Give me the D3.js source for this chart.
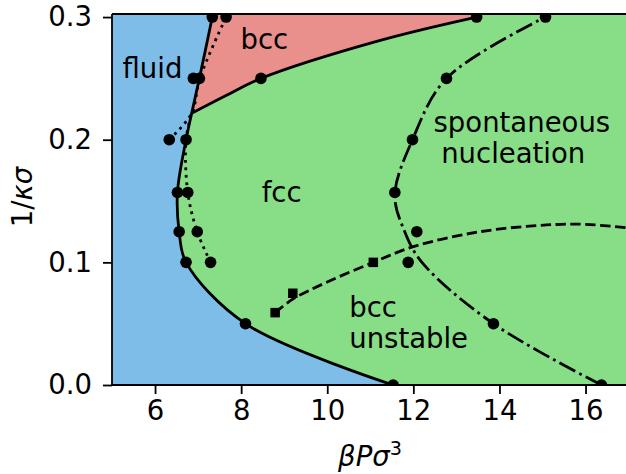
<!DOCTYPE html>
<html><head><meta charset="utf-8">
<script src="https://cdn.jsdelivr.net/npm/d3@7"></script>
<style>body{margin:0;background:#fff}svg{display:block}text{font-family:"DejaVu Sans",sans-serif;fill:#000}</style>
</head><body><svg id="c" width="626" height="474"></svg>
<script>
// ---- data ----
const xTicks = [6, 8, 10, 12, 14, 16];
const yTicks = [0.0, 0.1, 0.2, 0.3];
const yTickLabels = ["0.0", "0.1", "0.2", "0.3"];
// fluid–solid coexistence (solid)
const meltX = [11.53, 8.1, 6.72, 6.56, 6.52, 6.72, 6.85, 7.03, 7.33];
const meltY = [0, 0.05, 0.1, 0.125, 0.157, 0.2, 0.2215, 0.25, 0.3];
const meltMarkX = [11.53, 8.1, 6.72, 6.56, 6.52, 6.72, 6.89, 7.03, 7.33];
const meltMarkY = [0, 0.05, 0.1, 0.125, 0.157, 0.2, 0.25, 0.25, 0.3];
// bcc–fcc coexistence (solid)
const bfX = [6.85, 7.65, 8.46, 11.23, 13.47];
const bfY = [0.2215, 0.236, 0.25, 0.281, 0.3];
const bfMarkX = [8.46, 13.47];
const bfMarkY = [0.25, 0.3];
// metastable extensions (dotted)
const dotAX = [7.29, 6.98, 6.76, 6.72, 6.85];
const dotAY = [0.1, 0.125, 0.157, 0.2, 0.2215];
const dotAMarkX = [7.29, 6.98, 6.76];
const dotAMarkY = [0.1, 0.125, 0.157];
const dotBX = [6.33, 6.85, 7.04, 7.65];
const dotBY = [0.2, 0.2215, 0.25, 0.3];
const dotBMarkX = [6.33, 7.65];
const dotBMarkY = [0.2, 0.3];
// spontaneous nucleation (dash-dot)
const nucX = [16.37, 13.86, 12.2, 11.8, 11.57, 11.98, 12.77, 15.07];
const nucY = [0, 0.05, 0.1, 0.125, 0.155, 0.2, 0.25, 0.3];
const nucMarkX = [16.37, 13.86, 11.88, 12.08, 11.57, 11.98, 12.77, 15.07];
const nucMarkY = [0, 0.05, 0.1, 0.125, 0.157, 0.2, 0.25, 0.3];
// bcc unstable (dashed, squares)
const unsX = [8.79, 9.2, 10.0, 11.07, 12.0, 13.55, 15.1, 16.0, 17.0];
const unsY = [0.059, 0.07, 0.084, 0.1, 0.1128, 0.125, 0.1305, 0.131, 0.128];
const unsMarkX = [8.79, 9.2, 11.07];
const unsMarkY = [0.059, 0.0748, 0.1];
// region labels
const regionLabels = ["fluid", "bcc", "fcc", "spontaneous", "nucleation", "bcc", "unstable"];
const regionLabelX = [5.94, 8.54, 8.94, 14.52, 14.32, 10.51, 10.51];
const regionLabelY = [0.2503, 0.2737, 0.1494, 0.2065, 0.1807, 0.0557, 0.0299];
const regionAnchor = ["middle", "middle", "middle", "middle", "middle", "start", "start"];

// ---- layout ----
const W = 626, H = 474;
const L = 112, T = 14, B = 385;
const xDomain = [5, 17], yDomain = [0, 0.3025];
const R = L + (xDomain[1] - xDomain[0]) * 43.05;
const x = d3.scaleLinear().domain(xDomain).range([L, R]);
const y = d3.scaleLinear().domain(yDomain).range([B, T]);
const svg = d3.select("#c");
const FS = 27.5;
const colFluid = "#7dbde8", colFcc = "#87de87", colBcc = "#e9908c";

svg.append("defs").append("clipPath").attr("id", "clip")
  .append("rect").attr("x", L).attr("y", T).attr("width", R - L).attr("height", B - T);
const g = svg.append("g").attr("clip-path", "url(#clip)");

const zip = (xs, ys) => xs.map((v, i) => [v, ys[i]]);
const curve = d3.line().x(d => x(d[0])).y(d => y(d[1])).curve(d3.curveCatmullRom.alpha(0.5));

// fcc background
g.append("rect").attr("x", L).attr("y", T).attr("width", R - L).attr("height", B - T).attr("fill", colFcc);
// bcc region
const bf = zip(bfX, bfY);
const bfLast = bf[bf.length - 1];
g.append("path").attr("fill", colBcc).attr("d",
  curve(bf) + `L${x(bfLast[0])},${y(yDomain[1])}L${x(xDomain[0])},${y(yDomain[1])}L${x(xDomain[0])},${y(bf[0][1])}Z`);
// fluid region
const melt = zip(meltX, meltY);
const mLast = melt[melt.length - 1];
g.append("path").attr("fill", colFluid).attr("d",
  curve(melt) + `L${x(mLast[0])},${y(yDomain[1])}L${x(xDomain[0])},${y(yDomain[1])}L${x(xDomain[0])},${y(0)}Z`);

const lw = 2.8;
function drawLine(xs, ys, dash) {
  g.append("path").attr("d", curve(zip(xs, ys))).attr("fill", "none").attr("stroke", "#000")
    .attr("stroke-width", lw).attr("stroke-dasharray", dash || null);
}
drawLine(meltX, meltY);
drawLine(bfX, bfY);
drawLine(dotAX, dotAY, "2.8,4.6");
drawLine(dotBX, dotBY, "2.8,4.6");
drawLine(nucX, nucY, "17.9,4.5,2.8,4.5");
drawLine(unsX, unsY, "10.4,4.5");

function circles(xs, ys) {
  g.selectAll(null).data(zip(xs, ys)).enter().append("circle")
    .attr("cx", d => x(d[0])).attr("cy", d => y(d[1])).attr("r", 5.8).attr("fill", "#000");
}
circles(meltMarkX, meltMarkY);
circles(bfMarkX, bfMarkY);
circles(dotAMarkX, dotAMarkY);
circles(dotBMarkX, dotBMarkY);
circles(nucMarkX, nucMarkY);
const sq = 9.5;
g.selectAll(null).data(zip(unsMarkX, unsMarkY)).enter().append("rect")
  .attr("x", d => x(d[0]) - sq / 2).attr("y", d => y(d[1]) - sq / 2)
  .attr("width", sq).attr("height", sq).attr("fill", "#000");

// region labels
svg.selectAll(null).data(regionLabels).enter().append("text")
  .attr("x", (d, i) => x(regionLabelX[i])).attr("y", (d, i) => y(regionLabelY[i]))
  .attr("text-anchor", (d, i) => regionAnchor[i]).attr("font-size", FS).text(d => d);

// spines
const sp = svg.append("g").attr("stroke", "#000").attr("stroke-width", 1.8).attr("fill", "none");
sp.append("line").attr("x1", L).attr("x2", L).attr("y1", T).attr("y2", B);
sp.append("line").attr("x1", L).attr("x2", R).attr("y1", B).attr("y2", B);
sp.append("line").attr("x1", L).attr("x2", R).attr("y1", T).attr("y2", T);

// axes ticks
const xAxis = d3.axisBottom(x).tickValues(xTicks).tickSize(9).tickPadding(6).tickFormat(d3.format("d"));
const yAxis = d3.axisLeft(y).tickValues(yTicks).tickSize(9).tickPadding(11).tickFormat((d, i) => yTickLabels[i]);
const gx = svg.append("g").attr("transform", `translate(0,${B})`).call(xAxis);
const gy = svg.append("g").attr("transform", `translate(${L},0)`).call(yAxis);
[gx, gy].forEach(a => {
  a.select(".domain").remove();
  a.selectAll(".tick line").attr("stroke", "#000").attr("stroke-width", 1.8);
  a.selectAll(".tick text").attr("font-size", FS).attr("font-family", "DejaVu Sans").attr("fill", "#000");
});

// axis labels
const xl = svg.append("text").attr("x", 370).attr("y", 466).attr("text-anchor", "middle").attr("font-size", FS);
xl.append("tspan").attr("font-style", "italic").text("βPσ");
xl.append("tspan").attr("font-size", FS * 0.7).attr("dy", -11).text("3");
const yl = svg.append("text").attr("transform", "translate(32,197) rotate(-90)").attr("text-anchor", "middle").attr("font-size", FS);
yl.append("tspan").text("1/");
yl.append("tspan").attr("font-style", "italic").text("κσ");
</script></body></html>
